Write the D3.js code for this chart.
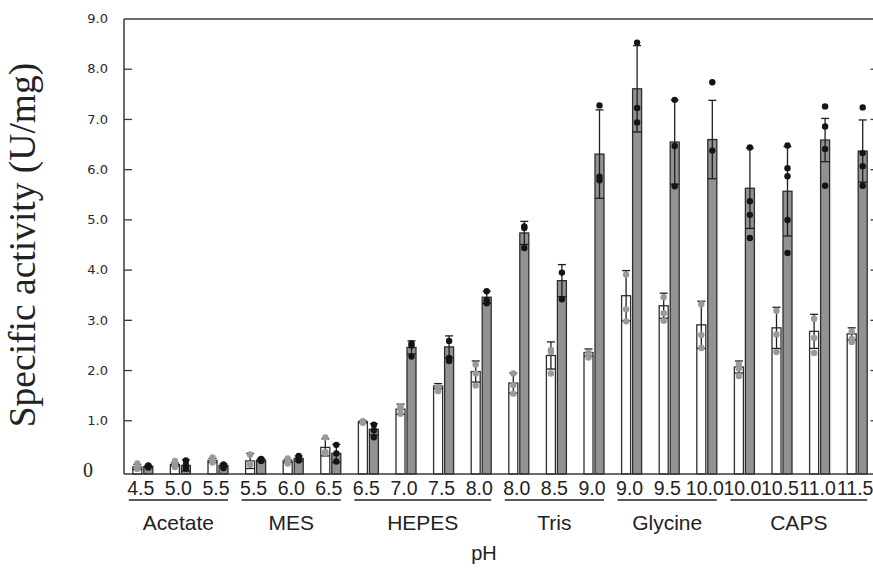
<!DOCTYPE html>
<html>
<head>
<meta charset="utf-8">
<script src="https://cdn.jsdelivr.net/npm/d3@7"></script>
<style>
  html, body { margin: 0; padding: 0; background: #fff; }
  svg { display: block; }
</style>
</head>
<body>
<svg id="chart" width="873" height="569"></svg>
<script>
// ---- data ----
const categories = ["4.5","5.0","5.5","5.5","6.0","6.5","6.5","7.0","7.5","8.0","8.0","8.5","9.0","9.0","9.5","10.0","10.0","10.5","11.0","11.5"];
const groups = [
  { name: "Acetate", first: 0, last: 2 },
  { name: "MES", first: 3, last: 5 },
  { name: "HEPES", first: 6, last: 9 },
  { name: "Tris", first: 10, last: 12 },
  { name: "Glycine", first: 13, last: 15 },
  { name: "CAPS", first: 16, last: 19 }
];
const whiteMean = [0.07,0.12,0.20,0.19,0.19,0.46,0.97,1.22,1.68,1.97,1.74,2.29,2.35,3.48,3.28,2.90,2.06,2.84,2.77,2.72];
const whiteSD   = [0.05,0.03,0.04,0.15,0.03,0.17,0.02,0.10,0.05,0.21,0.20,0.27,0.07,0.50,0.25,0.47,0.12,0.41,0.34,0.12];
const whiteDots = [
  [0.14,0.06,0.03],[0.19,0.12,0.07],[0.26,0.20,0.16],[0.32,0.13,0.12],[0.24,0.18,0.14],
  [0.66,0.37,0.35],[0.95,0.98,0.97],[1.28,1.23,1.13],[1.66,1.62,1.58],[2.11,1.93,1.69],
  [1.93,1.70,1.53],[2.40,2.36,1.93],[2.35,2.28,2.25],[3.90,3.21,2.97],[3.45,3.13,2.98],
  [3.31,2.70,2.44],[2.11,2.03,1.88],[3.18,2.71,2.36],[3.02,2.64,2.34],[2.77,2.62,2.56]
];
const grayMean = [0.08,0.10,0.10,0.21,0.24,0.34,0.82,2.45,2.46,3.45,4.73,3.78,6.30,7.60,6.54,6.59,5.62,5.56,6.58,6.36];
const graySD   = [0.02,0.11,0.03,0.03,0.05,0.18,0.11,0.13,0.22,0.12,0.23,0.32,0.88,0.86,0.84,0.78,0.80,0.89,0.43,0.62];
const grayDots = [
  [0.10,0.09,0.06],[0.20,0.11,0.04],[0.12,0.10,0.05],[0.23,0.21,0.19],[0.29,0.25,0.20],
  [0.51,0.34,0.18],[0.91,0.80,0.66],[2.53,2.49,2.27],[2.58,2.24,2.18],[3.57,3.39,3.33],
  [4.86,4.83,4.43],[3.94,3.41],[7.27,5.85,5.78],[8.52,7.22,6.93],[7.38,6.46,5.66],
  [7.73,6.37],[6.43,5.36,5.09,4.63],[6.47,6.02,5.86,4.99,4.33],[7.25,6.85,6.40,5.67],[7.23,6.32,6.06,5.67]
];
const yTicks = [1,2,3,4,5,6,7,8,9];
const yTitle = "Specific activity (U/mg)";
const xTitle = "pH";

// ---- layout ----
const svg = d3.select("#chart");
const plotL = 124, plotR = 876, plotT = 19, plotB = 474;
const yMin = -0.07;

const x = d3.scaleBand().domain(d3.range(categories.length)).range([plotL, plotR]).paddingInner(0).paddingOuter(0);
const y = d3.scaleLinear().domain([yMin, 9]).range([plotB, 18.5]);
const cx = i => x(i) + x.bandwidth() / 2;

const barW = 9;
const wx = i => cx(i) - 10;     // white bar left
const gx = i => cx(i) + 1;      // gray bar left

const barStroke = "#2e2e2e";
const grayFill = "#929295";

// bars
const gBars = svg.append("g");
gBars.selectAll("rect.w").data(whiteMean).join("rect").attr("class", "w")
  .attr("x", (d, i) => wx(i)).attr("width", barW)
  .attr("y", d => y(d)).attr("height", d => y(yMin) - y(d))
  .attr("fill", "#fff").attr("stroke", barStroke).attr("stroke-width", 1.3);
gBars.selectAll("rect.g").data(grayMean).join("rect").attr("class", "g")
  .attr("x", (d, i) => gx(i)).attr("width", barW)
  .attr("y", d => y(d)).attr("height", d => y(yMin) - y(d))
  .attr("fill", grayFill).attr("stroke", barStroke).attr("stroke-width", 1.3);

// error bars
function errorBars(means, sds, xLeft) {
  const g = svg.append("g").attr("stroke", "#1e1e1e").attr("stroke-width", 1.3).attr("fill", "none");
  means.forEach((m, i) => {
    const xc = xLeft(i) + barW / 2;
    const hi = m + sds[i], lo = Math.max(m - sds[i], -0.05);
    g.append("line").attr("x1", xc).attr("x2", xc).attr("y1", y(lo)).attr("y2", y(hi));
    g.append("line").attr("x1", xc - 4).attr("x2", xc + 4).attr("y1", y(hi)).attr("y2", y(hi));
    g.append("line").attr("x1", xLeft(i)).attr("x2", xLeft(i) + barW).attr("y1", y(lo)).attr("y2", y(lo));
  });
}
errorBars(whiteMean, whiteSD, wx);
errorBars(grayMean, graySD, gx);

// dots
function dots(list, xLeft, color) {
  const g = svg.append("g");
  list.forEach((vals, i) => {
    g.selectAll(null).data(vals).join("circle")
      .attr("cx", xLeft(i) + barW / 2).attr("cy", d => y(d)).attr("r", 3.2)
      .attr("fill", color);
  });
}
dots(whiteDots, wx, "#9a9a9a");
dots(grayDots, gx, "#141414");

// frame
const axisColor = "#3a3a3a";
svg.append("line").attr("x1", plotL).attr("x2", plotL).attr("y1", plotT).attr("y2", plotB)
  .attr("stroke", axisColor).attr("stroke-width", 1.5);
svg.append("line").attr("x1", plotL).attr("x2", plotR).attr("y1", plotT).attr("y2", plotT)
  .attr("stroke", axisColor).attr("stroke-width", 1.5);
svg.append("line").attr("x1", plotL).attr("x2", plotR).attr("y1", plotB).attr("y2", plotB)
  .attr("stroke", axisColor).attr("stroke-width", 1.5);
svg.append("line").attr("x1", plotR).attr("x2", plotR).attr("y1", plotT).attr("y2", plotB)
  .attr("stroke", axisColor).attr("stroke-width", 1.5);

// left axis (ticks inward)
const yAxisL = svg.append("g").attr("transform", `translate(${plotL},0)`)
  .call(d3.axisRight(y).tickValues(yTicks.filter(t => t < 9)).tickSize(8).tickFormat(""));
yAxisL.select(".domain").remove();
yAxisL.selectAll("line").attr("stroke", axisColor).attr("stroke-width", 1.3);

// right axis (ticks inward)
const yAxisR = svg.append("g").attr("transform", `translate(${plotR},0)`)
  .call(d3.axisLeft(y).tickValues(yTicks.filter(t => t < 9)).tickSize(5.5).tickFormat(""));
yAxisR.select(".domain").remove();
yAxisR.selectAll("line").attr("stroke", axisColor).attr("stroke-width", 1.3);

// y tick labels
svg.append("g").selectAll("text").data(yTicks).join("text")
  .attr("x", 108).attr("y", d => y(d)).attr("dy", "0.36em")
  .attr("text-anchor", "end")
  .attr("font-family", "DejaVu Sans, Verdana, sans-serif").attr("font-size", 13)
  .attr("fill", "#2a2a2a")
  .text(d => d.toFixed(1));
svg.append("text").attr("x", 88).attr("y", y(0)).attr("dy", "0.35em")
  .attr("text-anchor", "middle")
  .attr("font-family", "Liberation Serif, Times New Roman, serif").attr("font-size", 20)
  .attr("fill", "#222").text("0");

// y title
svg.append("text")
  .attr("transform", `translate(35,245) rotate(-90)`)
  .attr("text-anchor", "middle")
  .attr("font-family", "Liberation Serif, Times New Roman, serif").attr("font-size", 37.5)
  .attr("fill", "#222").text(yTitle);

// x category labels
const sansX = "Liberation Sans, Arial, Helvetica, sans-serif";
svg.append("g").selectAll("text").data(categories).join("text")
  .attr("x", (d, i) => cx(i) - 2).attr("y", 495)
  .attr("text-anchor", "middle")
  .attr("font-family", sansX).attr("font-size", 19.5)
  .attr("fill", "#222")
  .text(d => d);

// group underlines and names
const gGroups = svg.append("g");
groups.forEach(gr => {
  const x1 = cx(gr.first) - 14, x2 = cx(gr.last) + 10;
  gGroups.append("line").attr("x1", x1).attr("x2", x2).attr("y1", 500).attr("y2", 500)
    .attr("stroke", "#222").attr("stroke-width", 1.3);
  gGroups.append("text").attr("x", (x1 + x2) / 2).attr("y", 530)
    .attr("text-anchor", "middle")
    .attr("font-family", sansX).attr("font-size", 21)
    .attr("fill", "#222").text(gr.name);
});

// x title
svg.append("text").attr("x", 484).attr("y", 560).attr("text-anchor", "middle")
  .attr("font-family", sansX).attr("font-size", 20)
  .attr("fill", "#222").text(xTitle);
</script>
</body>
</html>
